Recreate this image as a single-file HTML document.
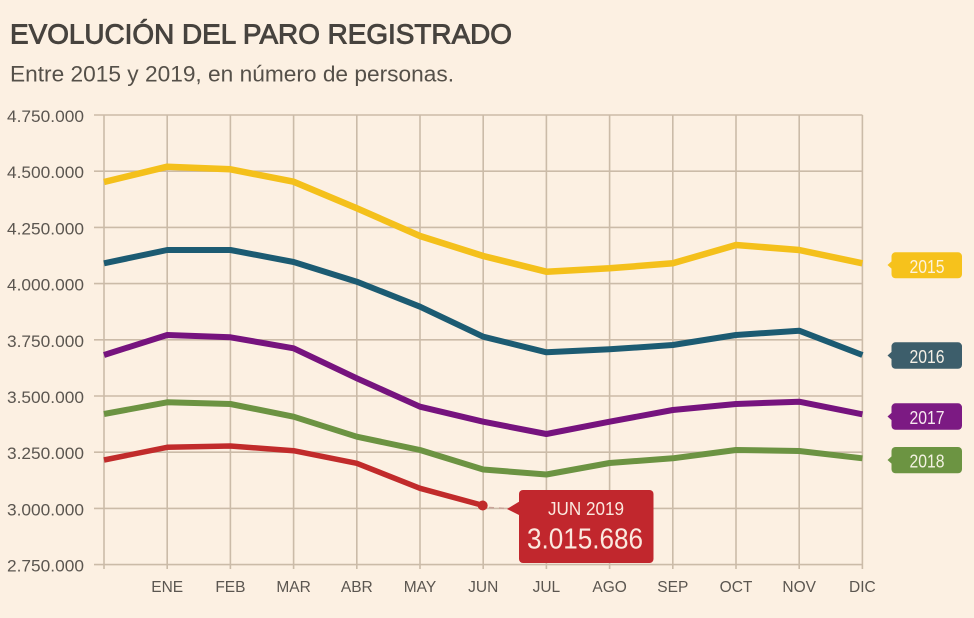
<!DOCTYPE html>
<html>
<head>
<meta charset="utf-8">
<style>
  html,body{margin:0;padding:0;background:#fcf0e2;}
  svg{display:block;}
  text{font-family:"Liberation Sans", sans-serif;}
</style>
</head>
<body>
<svg width="974" height="618" viewBox="0 0 974 618" xmlns="http://www.w3.org/2000/svg">
  <rect x="0" y="0" width="974" height="618" fill="#fcf0e2"/>

  <!-- Title -->
  <text x="10" y="43.5" font-size="28" fill="#47433e" stroke="#47433e" stroke-width="0.9" textLength="502" lengthAdjust="spacingAndGlyphs">EVOLUCIÓN DEL PARO REGISTRADO</text>
  <text x="10" y="81.5" font-size="22" fill="#555049" textLength="444" lengthAdjust="spacingAndGlyphs">Entre 2015 y 2019, en número de personas.</text>

  <!-- Grid -->
  <g stroke="#cbbba8" stroke-width="1.6" fill="none">
    <line x1="94" y1="115" x2="862.4" y2="115"/>
    <line x1="94" y1="171.2" x2="862.4" y2="171.2"/>
    <line x1="94" y1="227.4" x2="862.4" y2="227.4"/>
    <line x1="94" y1="283.6" x2="862.4" y2="283.6"/>
    <line x1="94" y1="339.8" x2="862.4" y2="339.8"/>
    <line x1="94" y1="396" x2="862.4" y2="396"/>
    <line x1="94" y1="452.2" x2="862.4" y2="452.2"/>
    <line x1="94" y1="508.4" x2="862.4" y2="508.4"/>
    <line x1="94" y1="564.6" x2="862.4" y2="564.6"/>

    <line x1="104" y1="115" x2="104" y2="569"/>
    <line x1="167.2" y1="115" x2="167.2" y2="569"/>
    <line x1="230.4" y1="115" x2="230.4" y2="569"/>
    <line x1="293.6" y1="115" x2="293.6" y2="569"/>
    <line x1="356.8" y1="115" x2="356.8" y2="569"/>
    <line x1="420" y1="115" x2="420" y2="569"/>
    <line x1="483.2" y1="115" x2="483.2" y2="569"/>
    <line x1="546.4" y1="115" x2="546.4" y2="569"/>
    <line x1="609.6" y1="115" x2="609.6" y2="569"/>
    <line x1="672.8" y1="115" x2="672.8" y2="569"/>
    <line x1="736" y1="115" x2="736" y2="569"/>
    <line x1="799.2" y1="115" x2="799.2" y2="569"/>
    <line x1="862.4" y1="115" x2="862.4" y2="569"/>
  </g>

  <!-- Y labels -->
  <g font-size="17" fill="#5b5650" text-anchor="end">
    <text x="84" y="122" textLength="77" lengthAdjust="spacingAndGlyphs">4.750.000</text>
    <text x="84" y="178.2" textLength="77" lengthAdjust="spacingAndGlyphs">4.500.000</text>
    <text x="84" y="234.4" textLength="77" lengthAdjust="spacingAndGlyphs">4.250.000</text>
    <text x="84" y="290.6" textLength="77" lengthAdjust="spacingAndGlyphs">4.000.000</text>
    <text x="84" y="346.8" textLength="77" lengthAdjust="spacingAndGlyphs">3.750.000</text>
    <text x="84" y="403" textLength="77" lengthAdjust="spacingAndGlyphs">3.500.000</text>
    <text x="84" y="459.2" textLength="77" lengthAdjust="spacingAndGlyphs">3.250.000</text>
    <text x="84" y="515.4" textLength="77" lengthAdjust="spacingAndGlyphs">3.000.000</text>
    <text x="84" y="571.6" textLength="77" lengthAdjust="spacingAndGlyphs">2.750.000</text>
  </g>

  <!-- X labels -->
  <g font-size="15.5" fill="#5b5650" text-anchor="middle">
    <text x="167.2" y="592">ENE</text>
    <text x="230.4" y="592">FEB</text>
    <text x="293.6" y="592">MAR</text>
    <text x="356.8" y="592">ABR</text>
    <text x="420" y="592">MAY</text>
    <text x="483.2" y="592">JUN</text>
    <text x="546.4" y="592">JUL</text>
    <text x="609.6" y="592">AGO</text>
    <text x="672.8" y="592">SEP</text>
    <text x="736" y="592">OCT</text>
    <text x="799.2" y="592">NOV</text>
    <text x="862.4" y="592">DIC</text>
  </g>

  <!-- Series -->
  <g fill="none" stroke-linejoin="round" stroke-linecap="butt">
    <polyline stroke="#f4c01b" stroke-width="6.5" points="104,182 167.2,166.7 230.4,169.3 293.6,181.7 356.8,208.3 420,236 483.2,256 546.4,271.7 609.6,268.3 672.8,263.3 736,245 799.2,250 862.4,263.3"/>
    <polyline stroke="#1c5b72" stroke-width="6" points="104,263.3 167.2,250 230.4,250 293.6,262 356.8,281.7 420,306.7 483.2,336.7 546.4,352.3 609.6,349.3 672.8,345 736,335 799.2,330.7 862.4,355"/>
    <polyline stroke="#76137e" stroke-width="6" points="104,355 167.2,335 230.4,337.3 293.6,348.3 356.8,378.3 420,406.7 483.2,421.7 546.4,434 609.6,421.7 672.8,410 736,404 799.2,401.7 862.4,414.3"/>
    <polyline stroke="#6c9342" stroke-width="6" points="104,414 167.2,402.3 230.4,404 293.6,416.7 356.8,436.7 420,450 483.2,469.5 546.4,474.5 609.6,463 672.8,458.3 736,450 799.2,451 862.4,458.3"/>
    <polyline stroke="#c12b2b" stroke-width="5.5" points="104,460 167.2,447.3 230.4,446 293.6,450.7 356.8,463.3 420,488.3 483.2,505.5"/>
  </g>

  <!-- Callout -->
  <circle cx="482.7" cy="505.5" r="5" fill="#c12b2b"/>
  <line x1="489" y1="507.5" x2="507" y2="508.5" stroke="#c9a59a" stroke-width="1.5" stroke-dasharray="5,5"/>
  <polygon points="507,509 521,500.5 521,516" fill="#c1272d"/>
  <rect x="519" y="490" width="134.5" height="73" rx="4" ry="4" fill="#c1272d"/>
  <text x="586" y="515" font-size="18" fill="#fbe9df" text-anchor="middle" textLength="76" lengthAdjust="spacingAndGlyphs">JUN 2019</text>
  <text x="585" y="548.5" font-size="29" fill="#fbe9df" text-anchor="middle" textLength="116" lengthAdjust="spacingAndGlyphs">3.015.686</text>

  <!-- Right labels -->
  <g>
    <polygon points="887.5,265 892,261 892,269" fill="#f6c21c"/>
    <rect x="891.5" y="252.3" width="70.5" height="26" rx="4" ry="4" fill="#f6c21c"/>
    <text x="927" y="273" font-size="18" fill="#fdf3dc" text-anchor="middle" textLength="35" lengthAdjust="spacingAndGlyphs">2015</text>

    <polygon points="887.5,355.5 892,351.5 892,359.5" fill="#3d5e6b"/>
    <rect x="891.5" y="342.3" width="70.5" height="26.5" rx="4" ry="4" fill="#3d5e6b"/>
    <text x="927" y="363" font-size="18" fill="#f4efe6" text-anchor="middle" textLength="35" lengthAdjust="spacingAndGlyphs">2016</text>

    <polygon points="887.5,416.5 892,412.5 892,420.5" fill="#7c1a83"/>
    <rect x="891.5" y="403.3" width="70.5" height="26.5" rx="4" ry="4" fill="#7c1a83"/>
    <text x="927" y="424" font-size="18" fill="#f6e9ef" text-anchor="middle" textLength="35" lengthAdjust="spacingAndGlyphs">2017</text>

    <polygon points="887.5,460 892,456 892,464" fill="#6c9442"/>
    <rect x="891.5" y="447" width="70.5" height="26.3" rx="4" ry="4" fill="#6c9442"/>
    <text x="927" y="467.5" font-size="18" fill="#f3f2e2" text-anchor="middle" textLength="35" lengthAdjust="spacingAndGlyphs">2018</text>
  </g>
</svg>
</body>
</html>
